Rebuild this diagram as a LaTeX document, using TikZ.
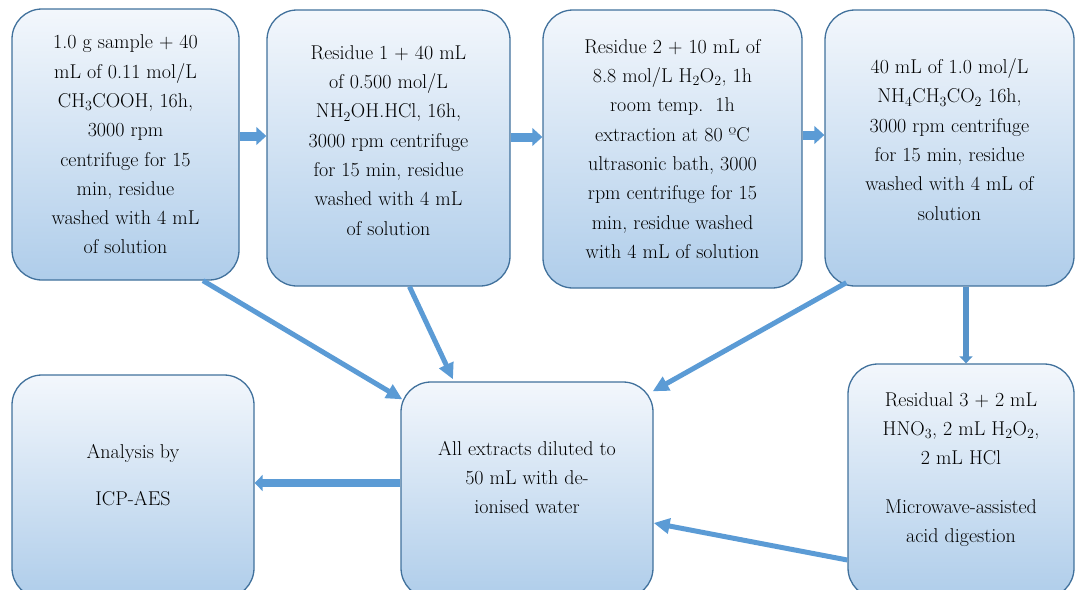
\documentclass[tikz,border=0pt]{standalone}
\usepackage{fontspec}
\usetikzlibrary{arrows.meta}
\definecolor{boxline}{HTML}{41719C}
\definecolor{boxtop}{HTML}{F3F7FC}
\definecolor{boxbot}{HTML}{AFCDEA}
\definecolor{flowblue}{HTML}{5B9BD5}
\newcommand{\chsub}[1]{\textsubscript{#1}}
\begin{document}
\begin{tikzpicture}[x=1pt,y=-1pt,
  stage/.style={draw=boxline,line width=1.3pt,rounded corners=30pt,
    top color=boxtop,bottom color=boxbot,align=center,inner sep=0pt,
    text=black,font=\fontsize{20}{29.3}\selectfont},
  blockarrow/.style={flowblue,line width=9pt,-{Triangle[length=10pt,width=17.5pt]}},
  feedarrow/.style={flowblue,line width=5pt,-{Triangle[length=16pt,width=15pt]}}]
\useasboundingbox (0,0) rectangle (1075,589);
% top row: the four extraction steps
\node[stage,minimum width=227pt,minimum height=271pt] (step1) at (125.5,144.5)
  {1.0 g sample + 40\\ mL of 0.11 mol/L\\ CH\chsub{3}COOH, 16h,\\ 3000 rpm\\
   centrifuge for 15\\ min, residue\\ washed with 4 mL\\ of solution};
\node[stage,minimum width=243pt,minimum height=276pt] (step2) at (388.5,148)
  {Residue 1 + 40 mL\\ of 0.500 mol/L\\ NH\chsub{2}OH.HCl, 16h,\\ 3000 rpm centrifuge\\
   for 15 min, residue\\ washed with 4 mL\\ of solution\\[-14pt]};
\node[stage,minimum width=259pt,minimum height=278pt] (step3) at (672.5,149)
  {Residue 2 + 10 mL of\\ 8.8 mol/L H\chsub{2}O\chsub{2}, 1h\\ room temp.\ \ 1h\\
   extraction at 80 ºC\\ ultrasonic bath, 3000\\ rpm centrifuge for 15\\
   min, residue washed\\ with 4 mL of solution};
\node[stage,minimum width=249pt,minimum height=276pt] (step4) at (949.5,148)
  {40 mL of 1.0 mol/L\\ NH\chsub{4}CH\chsub{3}CO\chsub{2} 16h,\\ 3000 rpm centrifuge\\
   for 15 min, residue\\ washed with 4 mL of\\ solution\\[-12pt]};
% bottom row
\node[stage,minimum width=242pt,minimum height=223pt] (icp) at (133,486.5)
  {Analysis by\\[17pt] ICP-AES\\[-6pt]};
\node[stage,minimum width=252pt,minimum height=216pt] (dilute) at (527,490)
  {All extracts diluted to\\ 50 mL with de-\\ ionised water\\[-4pt]};
\node[stage,minimum width=226pt,minimum height=234pt] (digest) at (961,481)
  {Residual 3 + 2 mL\\ HNO\chsub{3}, 2 mL H\chsub{2}O\chsub{2},\\ 2 mL HCl\\[19pt]
   Microwave-assisted\\ acid digestion\\[-2pt]};
% step to step
\draw[blockarrow] ([yshift=8.5pt]step1.east) -- ([yshift=8.5pt]step1.east -| step2.west);
\draw[blockarrow] ([yshift=11pt]step2.east) -- ([yshift=11pt]step2.east -| step3.west);
\draw[blockarrow] ([yshift=14pt]step3.east) -- ([yshift=14pt]step3.east -| step4.west);
% extracts collected
\draw[feedarrow] ([xshift=77.5pt]step1.south) -- ([shift={(2pt,-18pt)}]dilute.north west);
\draw[feedarrow] ([xshift=21pt]step2.south) -- ([shift={(-74pt,2pt)}]dilute.north);
\draw[feedarrow] ([shift={(22pt,4pt)}]step4.south west) -- ([shift={(-1pt,-10pt)}]dilute.north east);
\draw[feedarrow] ([yshift=-79pt]digest.west) -- ([yshift=-33pt]dilute.east);
\draw[flowblue!80!boxline,line width=6pt,-{Triangle[length=7pt,width=13pt]}]
  ([xshift=5pt]digest.north |- step4.south) -- ([xshift=5pt]digest.north);
\draw[flowblue,line width=8.6pt,-{Triangle[length=8pt,width=16pt]}]
  ([yshift=7pt]dilute.west) -- ([yshift=7pt]dilute.west -| icp.east);
\end{tikzpicture}
\end{document}
